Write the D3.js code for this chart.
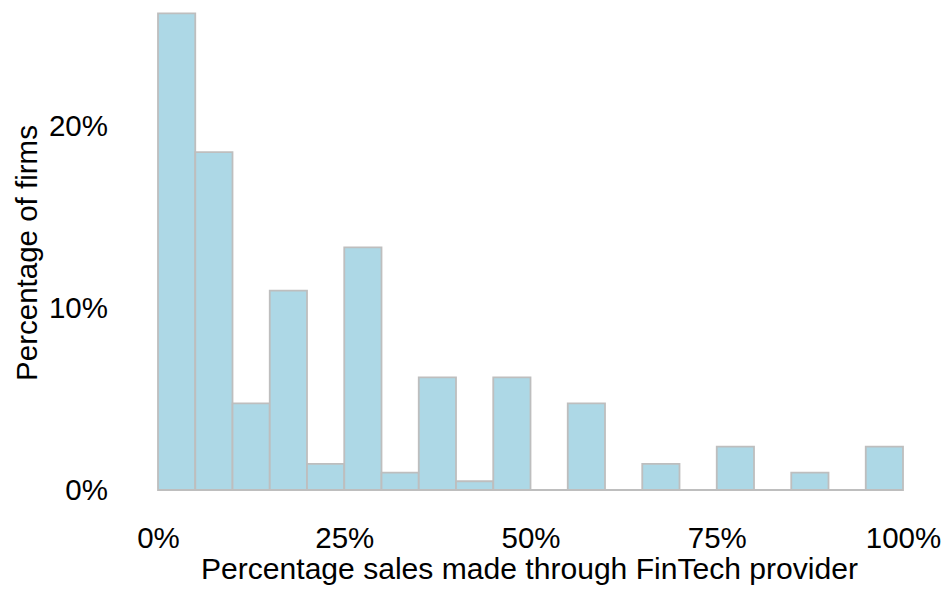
<!DOCTYPE html>
<html>
<head>
<meta charset="utf-8">
<script src="https://cdn.jsdelivr.net/npm/d3@7"></script>
<style>
  body { margin: 0; background: #fff; }
  text { font-family: "Liberation Sans", Arial, Helvetica, sans-serif; }
</style>
</head>
<body>
<div id="chart"></div>
<script>
// Histogram bins (lower edge, % of sales) and share of firms in each bin
const binStarts = [0, 5, 10, 15, 20, 25, 30, 35, 40, 45, 50, 55, 60, 65, 70, 75, 80, 85, 90, 95];
const binWidth = 5;
const shares = [0.2619, 0.1857, 0.0476, 0.1095, 0.0143, 0.1333, 0.0095, 0.0619, 0.0048, 0.0619,
                0, 0.0476, 0, 0.0143, 0, 0.0238, 0, 0.0095, 0, 0.0238];
const xTicks = [0, 25, 50, 75, 100];
const yTicks = [0, 0.1, 0.2];

const data = binStarts.map((x0, i) => ({ x0: x0, x1: x0 + binWidth, share: shares[i] }));

// Chart dimensions
const width = 947, height = 590;
const margin = { top: 13, right: 44, bottom: 100, left: 158 };

const svg = d3.select('#chart')
  .append('svg')
  .attr('width', width)
  .attr('height', height);

// Scales
const xScale = d3.scaleLinear()
  .domain([0, 100])
  .range([margin.left, width - margin.right]);

const yScale = d3.scaleLinear()
  .domain([0, 0.2])
  .range([height - margin.bottom, height - margin.bottom - 364]);

// Bars (empty bins still get their outline along the baseline)
svg.selectAll('.bar')
  .data(data)
  .enter()
  .append('path')
  .attr('class', 'bar')
  .attr('d', d => {
    const x0 = xScale(d.x0), x1 = xScale(d.x1);
    const y0 = yScale(0), y1 = yScale(d.share);
    return 'M' + x0 + ',' + y0 + 'V' + y1 + 'H' + x1 + 'V' + y0 + 'Z';
  })
  .attr('fill', '#add8e6')
  .attr('stroke', '#bebebe')
  .attr('stroke-width', 1.8);

// Axes (labels only)
const xAxis = d3.axisBottom(xScale)
  .tickValues(xTicks)
  .tickSize(0)
  .tickPadding(0)
  .tickFormat(d => d + '%');

const yAxis = d3.axisLeft(yScale)
  .tickValues(yTicks)
  .tickSize(0)
  .tickPadding(0)
  .tickFormat(d3.format('.0%'));

const gx = svg.append('g')
  .attr('transform', 'translate(0,' + yScale(0) + ')')
  .call(xAxis);

const gy = svg.append('g')
  .attr('transform', 'translate(108,0)')
  .call(yAxis);

[gx, gy].forEach(g => {
  g.select('.domain').remove();
  g.selectAll('text')
    .attr('font-family', '"Liberation Sans", Arial, sans-serif')
    .attr('font-size', '29.5px')
    .attr('fill', '#000');
});

gx.selectAll('text').attr('dy', null).attr('y', 58);

// Axis titles
svg.append('text')
  .attr('x', (xScale(0) + xScale(100)) / 2 - 1)
  .attr('y', 579)
  .attr('text-anchor', 'middle')
  .attr('font-size', '29.5px')
  .attr('textLength', 657)
  .attr('lengthAdjust', 'spacingAndGlyphs')
  .attr('fill', '#000')
  .text('Percentage sales made through FinTech provider');

svg.append('text')
  .attr('transform', 'translate(37,' + yScale(0.1) + ') rotate(-90)')
  .attr('x', 55)
  .attr('text-anchor', 'middle')
  .attr('font-size', '29.5px')
  .attr('fill', '#000')
  .text('Percentage of firms');
</script>
</body>
</html>
